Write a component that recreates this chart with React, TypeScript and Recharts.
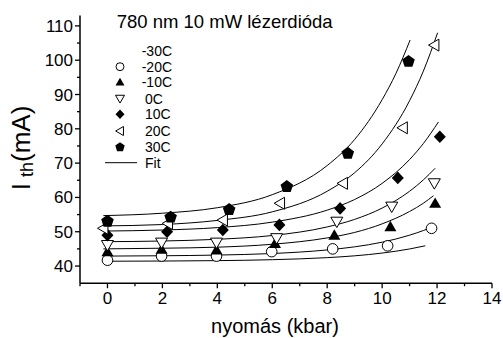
import React from 'react';
import { ComposedChart, Scatter, XAxis, YAxis, Customized } from 'recharts';

// ---- Measured threshold currents (mA) versus pressure (kbar) ----
const pressureM20 = [0, 1.97, 3.97, 5.98, 8.2, 10.2, 11.8];
const currentM20 = [41.7, 42.9, 42.9, 44.2, 45.0, 45.9, 51.0];

const pressureM10 = [0, 1.97, 3.97, 6.1, 8.26, 10.3, 11.93];
const currentM10 = [44.2, 44.9, 44.7, 46.6, 49.0, 51.5, 58.3];

const pressure0 = [0, 1.97, 3.97, 6.16, 8.35, 10.35, 11.9];
const current0 = [46.1, 46.8, 46.8, 48.1, 52.9, 57.3, 64.1];

const pressure10 = [0, 2.17, 4.2, 6.26, 8.47, 10.57, 12.1];
const current10 = [49.0, 50.0, 50.5, 52.0, 56.8, 65.7, 77.7];

const pressure20 = [-0.15, 2.2, 4.2, 6.28, 8.57, 10.75, 11.9];
const current20 = [51.0, 52.4, 53.4, 58.3, 64.1, 80.3, 104.4];

const pressure30 = [0, 2.3, 4.43, 6.53, 8.75, 10.96];
const current30 = [53.2, 54.4, 56.6, 63.3, 73.0, 99.8];

// ---- Fitted curves, sampled along pressure ----
const fitPressureM30 = [-0.15, 2, 4, 6, 8, 9, 10, 11, 11.57];
const fitCurrentM30 = [41.4, 41.46, 41.58, 41.85, 42.45, 42.98, 43.78, 44.98, 45.9];

const fitPressureM20 = [-0.15, 2, 4, 6, 8, 9, 10, 11, 11.5, 11.8];
const fitCurrentM20 = [42.9, 43.0, 43.2, 43.65, 44.7, 45.6, 46.95, 49.0, 50.35, 51.3];

const fitPressureM10 = [-0.15, 2, 4, 6, 8, 9, 10, 11, 11.5, 11.87];
const fitCurrentM10 = [45.0, 45.2, 45.5, 46.35, 48.2, 49.8, 52.3, 55.9, 58.3, 60.5];

const fitPressure0 = [-0.15, 2, 4, 6, 8, 9, 10, 11, 11.5, 11.93];
const fitCurrent0 = [47.1, 47.3, 47.8, 48.9, 51.4, 53.6, 56.9, 61.8, 65.1, 68.5];

const fitPressure10 = [-0.15, 2, 4, 6, 8, 9, 10, 11, 11.5, 12.05];
const fitCurrent10 = [50.2, 50.5, 51.2, 52.8, 56.3, 59.4, 64.1, 71.05, 75.7, 82.0];

const fitPressure20 = [-0.15, 2, 4, 6, 8, 9, 10, 11, 11.5, 12.02];
const fitCurrent20 = [51.7, 52.1, 53.3, 55.8, 61.8, 67.2, 75.6, 88.2, 96.8, 108.0];

const fitPressure30 = [-0.15, 2, 4, 6, 8, 9, 10, 10.5, 11.02];
const fitCurrent30 = [54.7, 55.4, 57.0, 60.8, 69.3, 76.9, 88.5, 96.1, 105.9];

// ---- Labels and ticks ----
const seriesNames = ['-30C', '-20C', '-10C', '0C', '10C', '20C', '30C'];
const fitName = 'Fit';
const titleText = '780 nm 10 mW lézerdióda';
const xAxisTitle = 'nyomás (kbar)';
const xTicks = [-1, 0, 1, 2, 3, 4, 5, 6, 7, 8, 9, 10, 11, 12, 13, 14];
const yTicks = [40, 45, 50, 55, 60, 65, 70, 75, 80, 85, 90, 95, 100, 105, 110];

const FONT = '"Liberation Sans", Arial, Helvetica, sans-serif';

type Kind = 'none' | 'circle' | 'up' | 'down' | 'diamond' | 'left' | 'pentagon';

const zip = (xs: number[], ys: number[]) => xs.map((x, i) => ({ x, y: ys[i] }));

const pointSeries: { name: string; kind: Kind; data: { x: number; y: number }[] }[] = [
  { name: seriesNames[1], kind: 'circle', data: zip(pressureM20, currentM20) },
  { name: seriesNames[2], kind: 'up', data: zip(pressureM10, currentM10) },
  { name: seriesNames[3], kind: 'down', data: zip(pressure0, current0) },
  { name: seriesNames[4], kind: 'diamond', data: zip(pressure10, current10) },
  { name: seriesNames[5], kind: 'left', data: zip(pressure20, current20) },
  { name: seriesNames[6], kind: 'pentagon', data: zip(pressure30, current30) },
];

const fitSeries = [
  zip(fitPressureM30, fitCurrentM30),
  zip(fitPressureM20, fitCurrentM20),
  zip(fitPressureM10, fitCurrentM10),
  zip(fitPressure0, fitCurrent0),
  zip(fitPressure10, fitCurrent10),
  zip(fitPressure20, fitCurrent20),
  zip(fitPressure30, fitCurrent30),
];

const legendKinds: Kind[] = ['none', 'circle', 'up', 'down', 'diamond', 'left', 'pentagon'];

function Marker({ kind, cx, cy, s = 1 }: { kind: Kind; cx: number; cy: number; s?: number }) {
  if (cx == null || cy == null) return <g />;
  const pts = (arr: number[][]) => arr.map(([a, b]) => `${cx + a * s},${cy + b * s}`).join(' ');
  switch (kind) {
    case 'circle':
      return <circle cx={cx} cy={cy} r={5.3 * s} fill="#fff" stroke="#000" strokeWidth={1} />;
    case 'up':
      return <polygon points={pts([[0, -5.8], [6, 4.6], [-6, 4.6]])} fill="#000" />;
    case 'down':
      return (
        <polygon points={pts([[-6, -4.6], [6, -4.6], [0, 5.8]])} fill="#fff" stroke="#000" strokeWidth={1} />
      );
    case 'diamond':
      return <polygon points={pts([[0, -6.3], [6, 0], [0, 6.3], [-6, 0]])} fill="#000" />;
    case 'left':
      return (
        <polygon points={pts([[-5.8, 0], [4.6, -6], [4.6, 6]])} fill="#fff" stroke="#000" strokeWidth={1} />
      );
    case 'pentagon': {
      const r = 6.6;
      const arr = [0, 1, 2, 3, 4].map((k) => {
        const a = -Math.PI / 2 + (k * 2 * Math.PI) / 5;
        return [r * Math.cos(a), r * Math.sin(a) + 0.6];
      });
      return <polygon points={pts(arr)} fill="#000" />;
    }
    default:
      return <g />;
  }
}

const XTick = (props: any) => {
  const { x, y, payload } = props;
  const v = payload.value as number;
  const major = v % 2 === 0;
  return (
    <g>
      <line x1={x} x2={x} y1={y} y2={y + (major ? 5 : 3)} stroke="#000" strokeWidth={1.3} />
      {major && (
        <text x={x} y={y + 21} textAnchor="middle" fontSize={17} fontFamily={FONT} fill="#000">
          {v}
        </text>
      )}
    </g>
  );
};

const YTick = (props: any) => {
  const { x, y, payload } = props;
  const v = payload.value as number;
  const major = v % 10 === 0;
  return (
    <g>
      <line x1={x} x2={x - (major ? 5 : 3)} y1={y} y2={y} stroke="#000" strokeWidth={1.3} />
      {major && (
        <text x={x - 7} y={y + 6} textAnchor="end" fontSize={17} fontFamily={FONT} fill="#000">
          {v}
        </text>
      )}
    </g>
  );
};

const Annotations = () => {
  const legendY = [51, 66.7, 82, 98.7, 114.3, 131, 146.7];
  return (
    <g>
      <text x={116.7} y={28.3} fontSize={18.5} fontFamily={FONT} fill="#000">
        {titleText}
      </text>
      <text
        transform="translate(30,148) rotate(-90)"
        textAnchor="middle"
        fontSize={26}
        fontFamily={FONT}
        fill="#000"
      >
        <tspan>I</tspan>
        <tspan fontSize={18} dx={6} dy={3}>
          th
        </tspan>
        <tspan dy={-3}>(mA)</tspan>
      </text>
      <text x={275} y={333} textAnchor="middle" fontSize={20} fontFamily={FONT} fill="#000">
        {xAxisTitle}
      </text>
      {seriesNames.map((name, i) => (
        <g key={name}>
          <Marker kind={legendKinds[i]} cx={120} cy={legendY[i]} s={0.75} />
          <text
            x={name.startsWith('-') ? 141.7 : 145}
            y={legendY[i]}
            dominantBaseline="central"
            fontSize={14}
            fontFamily={FONT}
            fill="#000"
          >
            {name}
          </text>
        </g>
      ))}
      <line x1={105} x2={137} y1={162.7} y2={162.7} stroke="#000" strokeWidth={1} />
      <text x={145} y={162.7} dominantBaseline="central" fontSize={14} fontFamily={FONT} fill="#000">
        {fitName}
      </text>
    </g>
  );
};

export default function App() {
  return (
    <div style={{ position: 'absolute', left: 0, top: 0, width: 503, height: 338, background: '#fff' }}>
      <ComposedChart width={503} height={338} margin={{ top: 15.6, right: 11, bottom: 24.8, left: 20 }}>
        <XAxis
          type="number"
          dataKey="x"
          domain={[-1, 14]}
          ticks={xTicks}
          interval={0}
          allowDataOverflow
          height={30}
          tickSize={0}
          tickMargin={0}
          tick={<XTick />}
          axisLine={{ stroke: '#000', strokeWidth: 1.5 }}
        />
        <YAxis
          type="number"
          dataKey="y"
          domain={[35, 113]}
          ticks={yTicks}
          interval={0}
          allowDataOverflow
          width={60}
          tickSize={0}
          tickMargin={0}
          tick={<YTick />}
          axisLine={{ stroke: '#000', strokeWidth: 1.5 }}
        />
        {fitSeries.map((d, i) => (
          <Scatter
            key={'fit' + i}
            name={fitName}
            data={d}
            line={{ stroke: '#000', strokeWidth: 1 }}
            lineJointType="monotoneX"
            shape={() => <g />}
            isAnimationActive={false}
          />
        ))}
        {pointSeries.map((s) => (
          <Scatter
            key={s.name}
            name={s.name}
            data={s.data}
            shape={(p: any) => <Marker kind={s.kind} cx={p.cx} cy={p.cy} />}
            isAnimationActive={false}
          />
        ))}
        <Customized component={<Annotations />} />
      </ComposedChart>
    </div>
  );
}
